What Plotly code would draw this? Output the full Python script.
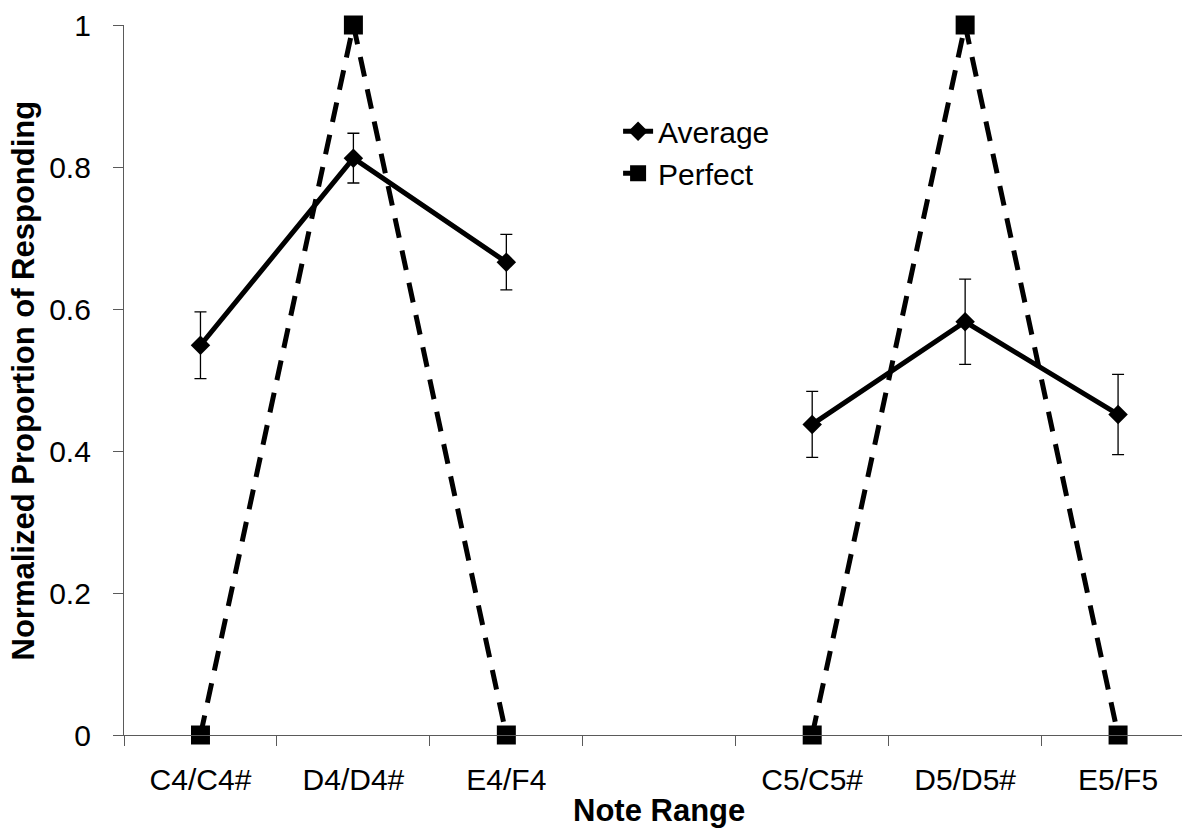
import plotly.graph_objects as go

# Note ranges (the blank slot separates the two octaves)
note_ranges = ["C4/C4#", "D4/D4#", "E4/F4", " ", "C5/C5#", "D5/D5#", "E5/F5"]

# Normalized proportion of responding
average = [0.549, 0.8125, 0.666, None, 0.4375, 0.582, 0.4515]
average_err = [0.047, 0.035, 0.039, None, 0.0465, 0.06, 0.0565]
perfect = [0, 1, 0, None, 0, 1, 0]

font_family = "Liberation Sans, Arial, sans-serif"
axis_grey = "#5a5a5a"

fig = go.Figure()

fig.add_trace(go.Scatter(
    x=note_ranges, y=average, name="Average",
    mode="lines+markers",
    line=dict(color="black", width=5),
    marker=dict(symbol="diamond", size=15, color="black"),
    error_y=dict(type="data", array=average_err, visible=True,
                 color="black", thickness=1.3, width=6),
    cliponaxis=False,
))

fig.add_trace(go.Scatter(
    x=note_ranges, y=perfect, name="Perfect",
    mode="lines+markers",
    line=dict(color="black", width=5, dash="20px,13px"),
    marker=dict(symbol="square", size=19, color="black"),
    cliponaxis=False,
))

fig.update_layout(
    width=1182, height=833,
    margin=dict(l=124, r=0, t=25, b=98),
    plot_bgcolor="white", paper_bgcolor="white",
    font=dict(family=font_family, size=30, color="black"),
    showlegend=True,
    legend=dict(x=0.467, y=0.887, xanchor="left", yanchor="top",
                bgcolor="rgba(0,0,0,0)", font=dict(size=30),
                tracegroupgap=0),
)

fig.update_xaxes(
    type="category", categoryorder="array", categoryarray=note_ranges,
    range=[-0.5, 6.418],
    showline=True, linecolor=axis_grey, linewidth=1.3,
    tickson="boundaries", ticks="outside", ticklen=10,
    tickcolor=axis_grey, tickwidth=1.3,
    ticklabelstandoff=18,
    showgrid=False, zeroline=False,
)

fig.update_yaxes(
    range=[0, 1], tickmode="linear", tick0=0, dtick=0.2,
    tickformat="~g",
    showline=True, linecolor=axis_grey, linewidth=1.3,
    ticks="outside", ticklen=10, tickcolor=axis_grey, tickwidth=1.3,
    ticklabelstandoff=16,
    showgrid=False, zeroline=False,
)

fig.add_annotation(
    text="<b>Normalized Proportion of Responding</b>",
    xref="paper", yref="paper", x=-0.095, y=0.5,
    xanchor="center", yanchor="middle", textangle=-90,
    showarrow=False, font=dict(size=31),
)

fig.add_annotation(
    text="<b>Note Range</b>",
    xref="paper", yref="paper", x=0.5057, y=-0.106,
    xanchor="center", yanchor="middle",
    showarrow=False, font=dict(size=31),
)

fig.write_html("out.html")
